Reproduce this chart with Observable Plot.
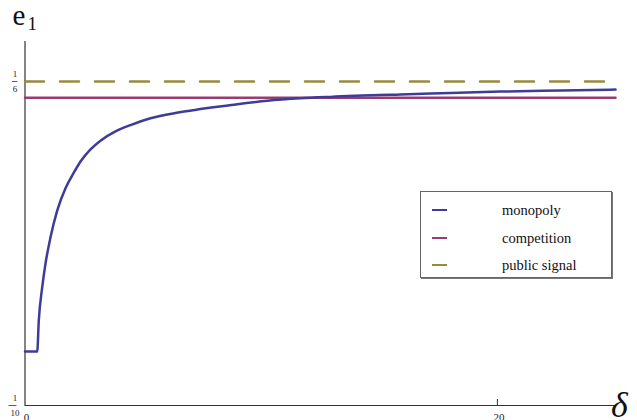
<!DOCTYPE html>
<html>
<head>
<meta charset="utf-8">
<script src="https://cdn.jsdelivr.net/npm/d3@7"></script>
<script src="https://cdn.jsdelivr.net/npm/@observablehq/plot@0.6"></script>
<style>
  html, body { margin: 0; padding: 0; background: #fff; }
  #wrap { position: relative; width: 637px; height: 420px; font-family: 'Liberation Serif', 'Times New Roman', serif; }
  #wrap svg text { font-family: 'Liberation Serif', 'Times New Roman', serif; }
  #legend { position: absolute; left: 420px; top: 191px; width: 192px; height: 87px; border: 1px solid #666; box-shadow: 1px 1px 0 #777; background: #fff; box-sizing: border-box; }
  .row { position: absolute; left: 0; height: 20px; width: 100%; }
  .sw { position: absolute; left: 11px; top: 9px; width: 15px; height: 2.2px; }
  .lab { position: absolute; left: 81px; top: 0; font-size: 14.5px; line-height: 20px; color: #111; font-family: 'Liberation Serif', 'Times New Roman', serif; }
</style>
</head>
<body>
<div id="wrap"></div>
<script>
// Data
const delta = [0, 0.517, 0.584, 0.728, 0.868, 1.080, 1.363, 1.715, 2.066, 2.350, 2.773, 3.196, 3.832, 4.467, 5.313, 6.372, 7.430, 8.827, 10.267, 11.664, 12.934, 15.898, 18.015, 20.131, 22.671, 25];
const monopoly = [0.1111, 0.1111, 0.1175, 0.1243, 0.1292, 0.1346, 0.1401, 0.1447, 0.1479, 0.1502, 0.1527, 0.1545, 0.1564, 0.1577, 0.1591, 0.1602, 0.1610, 0.1619, 0.1627, 0.1632, 0.1635, 0.1640, 0.1643, 0.1646, 0.1648, 0.1650];
const competitionValue = 0.1633;
const publicSignalValue = 1 / 6;
const xRange = [0, 25];
const seriesNames = ["monopoly", "competition", "public signal"];
const seriesColors = ["#3d3d99", "#993d71", "#998b3d"];
const xTicks = [0, 20];
const xTickLabels = ["0", "20"];
const yTicks = [0.1, 1 / 6];
const yTickNum = ["1", "1"];
const yTickDen = ["10", "6"];

const monoData = delta.map((d, i) => ({x: d, y: monopoly[i]}));
const compData = xRange.map(x => ({x, y: competitionValue}));
const pubData = xRange.map(x => ({x, y: publicSignalValue}));
const yTickData = yTicks.map((v, i) => ({v, num: yTickNum[i], den: yTickDen[i]}));
const xTickData = xTicks.map((v, i) => ({v, label: xTickLabels[i]}));

const serif = "'Liberation Serif', 'Times New Roman', serif";
const W = 637, H = 420, mL = 24.5, mR = 22, mT = 41, mB = 15;
const FW = W - mL - mR;

const chart = Plot.plot({
  width: W, height: H,
  marginLeft: mL, marginRight: mR, marginTop: mT, marginBottom: mB,
  style: {fontFamily: serif, background: "transparent", overflow: "visible"},
  x: {domain: xRange, axis: null},
  y: {domain: [0.1, 0.1749], axis: null},
  marks: [
    // axes lines
    Plot.ruleX([0], {stroke: "#333", strokeWidth: 1.2}),
    Plot.ruleY([0.1], {stroke: "#333", strokeWidth: 1.2}),
    // ticks
    Plot.ruleX([20], {stroke: "#333", strokeWidth: 1, insetTop: H - mT - mB - 6}),
    Plot.ruleY([1 / 6], {stroke: "#000", strokeWidth: 1.2, insetRight: FW - 7}),
    // series
    Plot.line(pubData, {x: "x", y: "y", stroke: seriesColors[2], strokeWidth: 2.5, strokeDasharray: "19,16"}),
    Plot.line(compData, {x: "x", y: "y", stroke: seriesColors[1], strokeWidth: 2.5}),
    Plot.line(monoData, {x: "x", y: "y", stroke: seriesColors[0], strokeWidth: 2.5, curve: "monotone-x"}),
    // y tick labels as fractions
    Plot.text(yTickData, {x: 0, y: "v", text: "num", dx: -10, dy: -7, fontSize: 9, fontFamily: serif, fill: "#222", textAnchor: "middle"}),
    Plot.ruleY([yTicks[1]], {stroke: "#333", strokeWidth: 0.8, insetLeft: -12.5, insetRight: FW + 7}),
    Plot.ruleY([yTicks[0]], {stroke: "#333", strokeWidth: 0.8, insetLeft: -16, insetRight: FW + 8}),
    Plot.text(yTickData, {x: 0, y: "v", text: "den", dx: -10, dy: 8, fontSize: 9, fontFamily: serif, fill: "#222", textAnchor: "middle"}),
    // x tick labels
    Plot.text(xTickData, {x: "v", y: 0.1, text: "label", dx: 1.5, dy: 8, lineAnchor: "top", fontSize: 11, fontFamily: serif, fill: "#222", textAnchor: "middle"})
  ]
});

const wrap = document.getElementById("wrap");
wrap.appendChild(chart);
chart.style.position = "absolute";
chart.style.left = "0"; chart.style.top = "0";

// axis labels
const ns = "http://www.w3.org/2000/svg";
function addText(x, y, str, size, italic) {
  const t = document.createElementNS(ns, "text");
  t.setAttribute("x", x); t.setAttribute("y", y);
  t.setAttribute("text-anchor", "start");
  t.setAttribute("style", `font-size:${size}px;font-family:${serif};${italic ? "font-style:italic;" : ""}fill:#111;text-anchor:start`);
  t.textContent = str;
  chart.appendChild(t);
}
addText(12.5, 25, "e", 29);
addText(27.5, 29.5, "1", 19);
addText(611, 417, "\u03b4", 36, true);

// legend
const legend = document.createElement("div");
legend.id = "legend";
seriesNames.forEach((name, i) => {
  const row = document.createElement("div");
  row.className = "row";
  row.style.top = (8 + i * 27.5) + "px";
  const sw = document.createElement("div");
  sw.className = "sw";
  sw.style.background = seriesColors[i];
  const lab = document.createElement("div");
  lab.className = "lab";
  lab.textContent = name;
  row.appendChild(sw); row.appendChild(lab);
  legend.appendChild(row);
});
wrap.appendChild(legend);
</script>
</body>
</html>
